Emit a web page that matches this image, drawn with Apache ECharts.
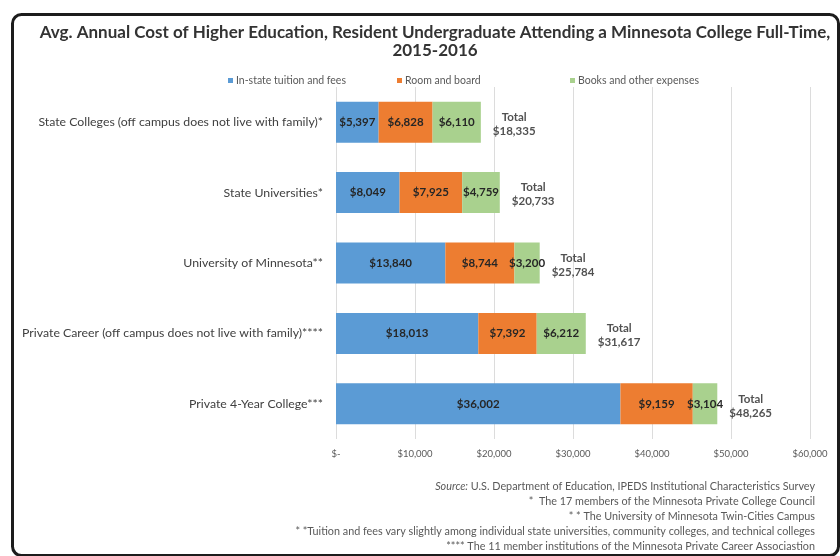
<!DOCTYPE html>
<html>
<head>
<meta charset="utf-8">
<script src="https://cdn.jsdelivr.net/npm/echarts@6/dist/echarts.min.js"></script>
<style>html,body{margin:0;padding:0;background:#fff}#c{width:840px;height:556px}</style>
</head>
<body>
<div id="c"></div>
<script>
const categories = [
  'State Colleges (off campus does not live with family)*',
  'State Universities*',
  'University of Minnesota**',
  'Private Career (off campus does not live with family)****',
  'Private 4-Year College***'
];
const seriesNames = ['In-state tuition and fees', 'Room and board', 'Books and other expenses'];
const tuition = [5397, 8049, 13840, 18013, 36002];
const roomBoard = [6828, 7925, 8744, 7392, 9159];
const books = [6110, 4759, 3200, 6212, 3104];
const xTicks = [0, 10000, 20000, 30000, 40000, 50000, 60000];
const titleLines = ['Avg. Annual Cost of Higher Education, Resident Undergraduate Attending a Minnesota College Full-Time,', '2015-2016'];
const footnotes = [
  '{i|Source:} U.S. Department of Education, IPEDS Institutional Characteristics Survey',
  '*  The 17 members of the Minnesota Private College Council',
  '* * The University of Minnesota Twin-Cities Campus',
  '* *Tuition and fees vary slightly among individual state universities, community colleges, and technical colleges',
  '**** The 11 member institutions of the Minnesota Private Career Associastion'
];

const colors = ['#5B9BD5', '#ED7D31', '#A9D18E'];
const FONT = 'Lato';
const fmt = v => '$' + v.toLocaleString('en-US');
const totals = tuition.map((v, i) => v + roomBoard[i] + books[i]);

const chart = echarts.init(document.getElementById('c'), null, {renderer: 'canvas'});

function barSeries(name, data, color) {
  return {
    name, type: 'bar', stack: 'cost', data, barWidth: 41,
    itemStyle: {color},
    label: {show: true, position: 'inside', formatter: p => fmt(p.value),
      fontFamily: FONT, fontSize: 11.5, fontWeight: 'bold', color: '#262626'}
  };
}

const legendLefts = [223, 392, 565];
const option = {
  backgroundColor: '#fff',
  animation: false,
  color: colors,
  title: {
    text: titleLines.join('\n'), left: 430, top: 19, textAlign: 'center',
    textStyle: {fontFamily: FONT, fontSize: 17, fontWeight: 'bold', color: '#333', lineHeight: 18}
  },
  legend: seriesNames.map((n, i) => ({
    data: [n], left: legendLefts[i], top: 70, itemWidth: 5, itemHeight: 5, icon: 'rect', itemGap: 4,
    textStyle: {fontFamily: FONT, fontSize: 10.5, color: '#595959', padding: [0, 0, 0, -2]}
  })),
  grid: {left: 336, right: 30, top: 87, bottom: 117, containLabel: false},
  xAxis: {
    type: 'value', min: xTicks[0], max: xTicks[xTicks.length - 1], interval: xTicks[1] - xTicks[0],
    axisLine: {show: false}, axisTick: {show: false},
    splitLine: {lineStyle: {color: '#dcdcdc', width: 1}},
    axisLabel: {margin: 10, fontFamily: FONT, fontSize: 9.5, color: '#595959',
      formatter: v => v === 0 ? '$-' : fmt(v)}
  },
  yAxis: {
    type: 'category', data: categories, inverse: true,
    axisLine: {show: false}, axisTick: {show: false},
    axisLabel: {margin: 13, fontFamily: FONT, fontSize: 12.3, color: '#404040'}
  },
  series: [
    barSeries(seriesNames[0], tuition, colors[0]),
    barSeries(seriesNames[1], roomBoard, colors[1]),
    barSeries(seriesNames[2], books, colors[2]),
    {
      name: 'Total', type: 'scatter', data: totals.map((t, i) => [t, categories[i]]),
      symbolSize: 0, silent: true,
      label: {show: true, position: 'right', distance: 12,
        formatter: p => '{a|Total}\n{b|' + fmt(p.value[0]) + '}',
        rich: {
          a: {fontFamily: FONT, fontSize: 11.5, fontWeight: 'bold', color: '#262626', align: 'center', lineHeight: 14},
          b: {fontFamily: FONT, fontSize: 11.5, fontWeight: 'bold', color: '#262626', align: 'center', lineHeight: 14}
        },
        offset: [0, 2]
      }
    }
  ],
  graphic: [
    {type: 'rect', left: 10, top: 12, silent: true,
      shape: {width: 826, height: 541, r: 9},
      style: {fill: 'none', stroke: '#1c1c1c', lineWidth: 3}, z: 100},
    ...footnotes.map((t, i) => ({
      type: 'text', right: 25, top: 481 + i * 15, silent: true,
      style: {text: t, fontFamily: FONT, fontSize: 10.8, fill: '#595959', textAlign: 'right',
        rich: {i: {fontFamily: FONT, fontSize: 10.8, fontStyle: 'italic', fill: '#595959'}}}
    }))
  ]
};
chart.setOption(option);
</script>
</body>
</html>
